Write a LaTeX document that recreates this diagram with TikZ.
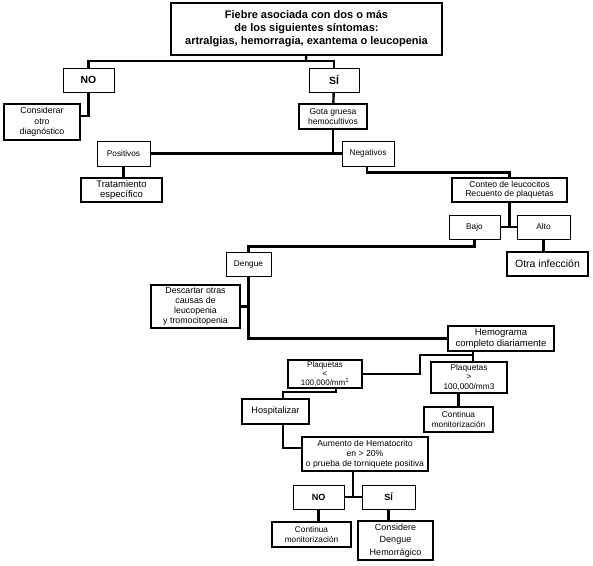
\documentclass[tikz,border=0pt]{standalone}
\usepackage{fontspec}
\setmainfont{Liberation Sans}
\usepackage{tikz}
\usetikzlibrary{positioning}

\begin{document}
\begin{tikzpicture}[x=1pt,y=-1pt,line width=2.4pt,font=\fontsize{8.3}{9.5}\selectfont]
\tikzstyle{every node}=[align=center,inner sep=0pt]
\tikzstyle{thin box}=[draw,line width=0.8pt]
\tikzstyle{mid box}=[draw,line width=1.5pt]
\tikzstyle{thick box}=[draw,line width=2.3pt]
\useasboundingbox (0,0) rectangle (593,565);

% first question
\node[thick box,minimum width=271pt,minimum height=52pt,font=\bfseries\fontsize{11}{13}\selectfont] (fiebre) at (306.5,29)
  {Fiebre asociada con dos o más\\de los siguientes síntomas:\\artralgias, hemorragia, exantema o leucopenia};
\node[thin box,minimum width=51pt,minimum height=24pt,font=\bfseries\fontsize{10.4}{12}\selectfont] (no)  at (88.5,80) {NO};
\node[thin box,minimum width=50pt,minimum height=24pt,font=\bfseries\fontsize{10.4}{12}\selectfont] (si)  at (334,80)  {SÍ};
\node[thick box,minimum width=76pt,minimum height=36pt,font=\fontsize{8.8}{10.5}\selectfont] (otrodiag) at (42,122) {Considerar\\otro\\diagnóstico};
\node[mid box,minimum width=68pt,minimum height=25pt,font=\fontsize{8.5}{10}\selectfont] (gota) at (333,116.5) {Gota gruesa\\hemocultivos};
\node[thin box,minimum width=53pt,minimum height=25pt] (positivos) at (123.5,153.5) {Positivos};
\node[thin box,minimum width=52pt,minimum height=25pt] (negativos) at (368,153.5) {Negativos};
\node[thick box,minimum width=81pt,minimum height=24pt,font=\fontsize{9.5}{10.5}\selectfont] (tratamiento) at (121.5,190) {Tratamiento\\específico};
\node[mid box,minimum width=115pt,minimum height=24pt,font=\fontsize{8.6}{9.3}\selectfont] (conteo) at (509.5,190) {Conteo de leucocitos\\Recuento de plaquetas};

% leucocitos
\node[thin box,minimum width=51pt,minimum height=24pt] (bajo) at (474.5,227) {Bajo};
\node[thin box,minimum width=53pt,minimum height=24pt] (alto) at (543.5,227) {Alto};
\node[thick box,minimum width=81pt,minimum height=24pt,font=\fontsize{10.5}{12}\selectfont] (otra) at (547.5,264) {Otra infección};
\node[thin box,minimum width=45pt,minimum height=24pt] (dengue) at (248.5,264) {Dengue};
\node[thick box,minimum width=89pt,minimum height=43pt,font=\fontsize{8.8}{10}\selectfont] (descartar) at (195.5,306.5)
  {Descartar otras\\causas de\\leucopenia\\y tromocitopenia};
\node[thick box,minimum width=106pt,minimum height=25pt,font=\fontsize{9.5}{10.5}\selectfont] (hemograma) at (501,338.5) {Hemograma\\completo diariamente};

% plaquetas
\node[thick box,minimum width=74pt,minimum height=28pt,font=\fontsize{8}{8.7}\selectfont] (plaqmenos) at (325,374) {Plaquetas\\<\\100,000/mm\textsuperscript{1}};
\node[thick box,minimum width=76pt,minimum height=31pt,font=\fontsize{8.3}{9.5}\selectfont] (plaqmas) at (469,377.5) {Plaquetas\\>\\100,000/mm3};
\node[mid box,minimum width=69pt,minimum height=25pt] (continua) at (458.5,419.5) {Continua\\monitorización};
\node[thick box,minimum width=67pt,minimum height=25pt,font=\fontsize{9.2}{10}\selectfont] (hospital) at (275.5,411.5) {Hospitalizar};
\node[thick box,minimum width=126pt,minimum height=34pt,font=\fontsize{8.6}{10}\selectfont] (aumento) at (365,454)
  {Aumento de Hematocrito\\en > 20\%\\o prueba de torniquete positiva};
\node[thin box,minimum width=51pt,minimum height=24pt,font=\bfseries\fontsize{9}{10}\selectfont] (nodos) at (318.5,497) {NO};
\node[thin box,minimum width=53pt,minimum height=24pt,font=\bfseries\fontsize{9}{10}\selectfont] (sidos) at (388.5,497) {SÍ};
\node[thick box,minimum width=79pt,minimum height=25pt] (continuados) at (311.5,534.5) {Continua\\monitorización};
\node[thick box,minimum width=75pt,minimum height=39pt,font=\fontsize{9}{12.5}\selectfont] (hemorragico) at (395.5,540.5) {Considere\\Dengue\\Hemorrágico};

% junctions
\coordinate (jfiebre) at (306,61);
\coordinate (jhemo)   at (473,355);
\coordinate (jplaq)   at (420,355);
\coordinate (jaum)    at (353,497);

\draw (fiebre) -- (jfiebre);
\draw (no) |- (jfiebre) -| (si);
\draw (no) |- ([yshift=6pt]otrodiag.east);
\draw (si) -- (gota);
\draw (gota) -- (gota|-positivos);
\draw (positivos) -- (negativos);
\draw (positivos.south) -- (positivos.south|-tratamiento.north);
\draw ([xshift=-1pt]negativos.south) -- ++(0,6) -| (conteo.north);
\draw (conteo) -- (conteo|-bajo);
\draw (bajo) -- (alto);
\draw (alto.south) -- (alto.south|-otra.north);
\draw (bajo.south) -- ++(0,7) -| (dengue.north);
\draw (dengue) |- (hemograma);
\draw (descartar.east) -- (descartar.east-|dengue);
\draw (jhemo|-hemograma.south) -- (jhemo|-plaqmas.north);
\draw (plaqmenos) -| (jplaq) -- (jhemo);
\draw ([xshift=11pt]plaqmenos.south) -- ++(0,3) -| ([xshift=7.5pt]hospital.north);
\draw ([xshift=7.5pt]hospital.south) |- ([yshift=6pt]aumento.west);
\draw (continua.north|-plaqmas.south) -- (continua.north);
\draw (jaum|-aumento.south) -- (jaum);
\draw (nodos) -- (sidos);
\draw (nodos.south) -- (nodos.south|-continuados.north);
\draw (sidos.south) -- (sidos.south|-hemorragico.north);
\end{tikzpicture}
\end{document}
